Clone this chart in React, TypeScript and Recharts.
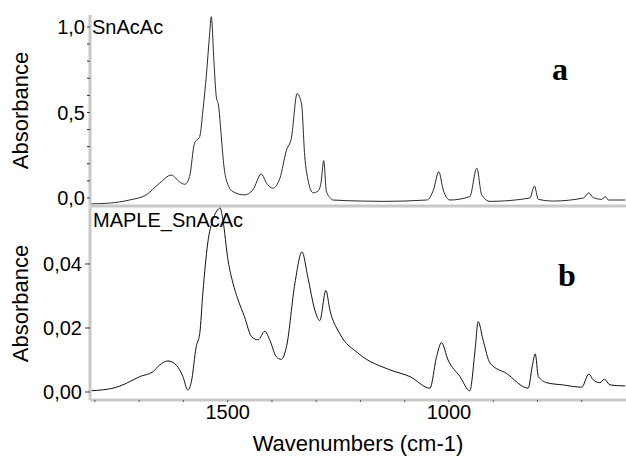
import React from "react";
import { LineChart, Line, XAxis, YAxis, Label } from "recharts";

// Panel a: SnAcAc
const wavenumbersA = [1812, 1767, 1722, 1684, 1654, 1627, 1609, 1597, 1586, 1575, 1563, 1556, 1548, 1541, 1537, 1531, 1526, 1520, 1515, 1509, 1503, 1488, 1462, 1443, 1424, 1412, 1398, 1382, 1367, 1356, 1343, 1333, 1326, 1318, 1307, 1296, 1289, 1283, 1277, 1268, 1262, 1198, 1149, 1050, 1035, 1023, 1013, 998, 953, 937, 926, 907, 817, 807, 798, 764, 696, 684, 674, 655, 647, 640, 602];
const absorbanceA = [-0.035, -0.03, -0.012, 0.018, 0.086, 0.134, 0.095, 0.08, 0.125, 0.32, 0.36, 0.51, 0.72, 0.95, 1.06, 0.8, 0.6, 0.53, 0.38, 0.2, 0.105, 0.037, 0.018, 0.047, 0.14, 0.086, 0.057, 0.115, 0.28, 0.35, 0.61, 0.55, 0.25, 0.1, 0.03, 0.04, 0.09, 0.218, 0.04, 0.0, -0.012, -0.018, -0.02, -0.012, 0.047, 0.154, 0.047, -0.012, 0.008, 0.174, 0.018, -0.02, 0, 0.07, -0.008, -0.018, 0, 0.03, 0.002, -0.008, 0.008, -0.012, -0.012];

// Panel b: MAPLE_SnAcAc
const wavenumbersB = [1808, 1759, 1729, 1699, 1669, 1654, 1635, 1616, 1601, 1590, 1582, 1571, 1563, 1556, 1545, 1533, 1522, 1517, 1511, 1499, 1488, 1477, 1462, 1446, 1431, 1416, 1405, 1390, 1379, 1367, 1348, 1332, 1319, 1303, 1292, 1278, 1269, 1247, 1205, 1133, 1088, 1043, 1028, 1017, 1002, 975, 953, 941, 934, 923, 907, 870, 821, 812, 805, 798, 779, 742, 700, 684, 674, 659, 649, 636, 602];
const absorbanceB = [0.0004, 0.0012, 0.0027, 0.0048, 0.0063, 0.0084, 0.0097, 0.0084, 0.0048, 0.0006, 0.0032, 0.0142, 0.0183, 0.031, 0.0465, 0.054, 0.057, 0.0575, 0.054, 0.041, 0.034, 0.029, 0.0235, 0.0173, 0.0163, 0.019, 0.0163, 0.011, 0.0102, 0.0142, 0.034, 0.0438, 0.036, 0.0256, 0.0223, 0.0317, 0.0256, 0.0183, 0.0121, 0.0069, 0.0048, 0.0012, 0.011, 0.0154, 0.01, 0.0048, 0.0004, 0.0131, 0.022, 0.0163, 0.009, 0.0058, 0.0012, 0.0079, 0.0119, 0.0048, 0.0029, 0.0022, 0.0015, 0.0056, 0.0038, 0.0029, 0.004, 0.0022, 0.0019];

const ticksA = [0, 0.1, 0.2, 0.3, 0.4, 0.5, 0.6, 0.7, 0.8, 0.9, 1.0];
const labelledTicksA = [0, 0.5, 1.0];
const ticksB = [0, 0.02, 0.04];
const ticksX = [700, 800, 900, 1000, 1100, 1200, 1300, 1400, 1500, 1600, 1700, 1800];
const labelledTicksX = [1000, 1500];

const dataA = wavenumbersA.map((wn, i) => ({ wn, a: absorbanceA[i] }));
const dataB = wavenumbersB.map((wn, i) => ({ wn, b: absorbanceB[i] }));

const FONT = "'Liberation Sans', Arial, sans-serif";
const SERIF = "'Liberation Serif', 'Times New Roman', serif";
const GREY = "#c8c8c8";
const X_DOMAIN: [number, number] = [600, 1811];

const yTitle = (props: any) => {
  const vb = props.viewBox || {};
  const cy = (vb.y || 0) + (vb.height || 0) / 2;
  return (
    <text
      x={20}
      y={cy}
      transform={`rotate(-90 20 ${cy})`}
      textAnchor="middle"
      dominantBaseline="central"
      fontSize={22}
      fontFamily={FONT}
      fill="#000"
    >
      Absorbance
    </text>
  );
};

const xTitle = (props: any) => {
  const vb = props.viewBox || {};
  const cx = (vb.x || 0) + (vb.width || 0) / 2;
  return (
    <text x={cx} y={(vb.y || 0) + 51} textAnchor="middle" fontSize={22} fontFamily={FONT} fill="#000">
      Wavenumbers (cm-1)
    </text>
  );
};

export default function App() {
  return (
    <div style={{ position: "absolute", left: 0, top: 0, width: 626, height: 458, background: "#fff", overflow: "hidden" }}>
      <div style={{ position: "absolute", left: 0, top: 0 }}>
        <LineChart width={626} height={210} data={dataA} margin={{ top: 15, right: 0, bottom: 0, left: 0 }}>
          <XAxis
            dataKey="wn"
            type="number"
            domain={X_DOMAIN}
            reversed
            allowDataOverflow
            height={4}
            tick={false}
            tickLine={false}
            axisLine={{ stroke: GREY, strokeWidth: 3 }}
          />
          <YAxis
            width={90}
            domain={[-0.047, 1.07]}
            allowDataOverflow
            ticks={ticksA}
            interval={0}
            tickFormatter={(v: number) => (labelledTicksA.some((t) => Math.abs(t - v) < 1e-6) ? v.toFixed(1).replace(".", ",") : "")}
            tick={{ fontSize: 20, fontFamily: FONT, fill: "#000" }}
            tickLine={{ stroke: "#333" }}
            tickSize={3}
            tickMargin={2}
            axisLine={{ stroke: GREY, strokeWidth: 3 }}
          >
            <Label content={yTitle} />
          </YAxis>
          <Line type="monotone" dataKey="a" stroke="#2a2a2a" strokeWidth={1} dot={false} isAnimationActive={false} />
        </LineChart>
      </div>
      <div style={{ position: "absolute", left: 0, top: 200 }}>
        <LineChart width={626} height={258} data={dataB} margin={{ top: 7, right: 0, bottom: 0, left: 0 }}>
          <XAxis
            dataKey="wn"
            type="number"
            domain={X_DOMAIN}
            reversed
            allowDataOverflow
            height={58}
            ticks={ticksX}
            interval={0}
            tickFormatter={(v: number) => (labelledTicksX.includes(v) ? String(v) : "")}
            tick={{ fontSize: 20, fontFamily: FONT, fill: "#000" }}
            tickLine={{ stroke: "#555" }}
            tickSize={2}
            tickMargin={3}
            axisLine={{ stroke: GREY, strokeWidth: 3 }}
          >
            <Label content={xTitle} />
          </XAxis>
          <YAxis
            width={90}
            domain={[-0.0025, 0.0578]}
            allowDataOverflow
            ticks={ticksB}
            interval={0}
            tickFormatter={(v: number) => v.toFixed(2).replace(".", ",")}
            tick={{ fontSize: 20, fontFamily: FONT, fill: "#000" }}
            tickLine={{ stroke: "#333" }}
            tickSize={5}
            tickMargin={3}
            axisLine={{ stroke: GREY, strokeWidth: 3 }}
          >
            <Label content={yTitle} />
          </YAxis>
          <Line type="monotone" dataKey="b" stroke="#111" strokeWidth={1} dot={false} isAnimationActive={false} />
        </LineChart>
      </div>
      <div style={{ position: "absolute", left: 92, top: 17, fontFamily: FONT, fontSize: 20, lineHeight: "20px", color: "#000", whiteSpace: "nowrap" }}>
        SnAcAc
      </div>
      <div style={{ position: "absolute", left: 93, top: 210, fontFamily: FONT, fontSize: 20, lineHeight: "20px", color: "#000", whiteSpace: "nowrap" }}>
        MAPLE_SnAcAc
      </div>
      <div style={{ position: "absolute", left: 552, top: 53, fontFamily: SERIF, fontWeight: "bold", fontSize: 32, lineHeight: "32px", color: "#000" }}>
        a
      </div>
      <div style={{ position: "absolute", left: 558, top: 259, fontFamily: SERIF, fontWeight: "bold", fontSize: 32, lineHeight: "32px", color: "#000" }}>
        b
      </div>
    </div>
  );
}
